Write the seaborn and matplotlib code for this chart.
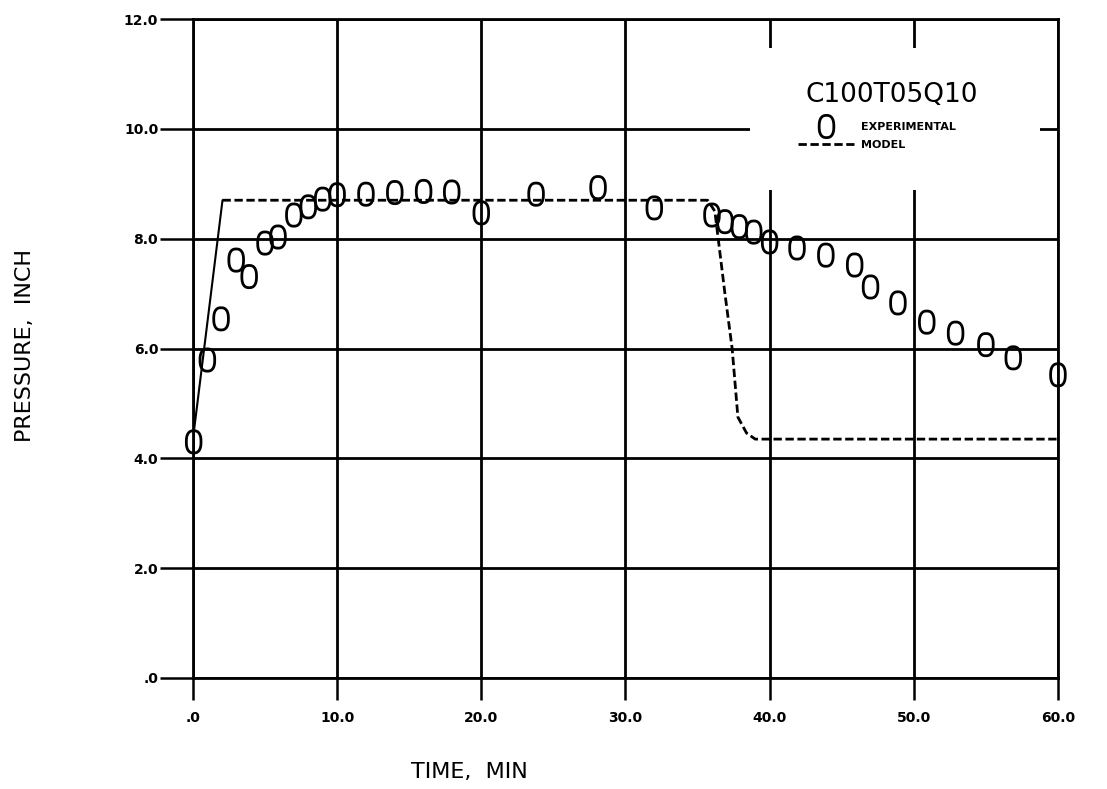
import numpy as np
import pandas as pd
import matplotlib
matplotlib.use("Agg")
import matplotlib.pyplot as plt
from matplotlib.path import Path
from matplotlib.lines import Line2D
from matplotlib.patches import Rectangle
import seaborn as sns

# ---- data ----
exp_time = [0.05, 1.0, 1.95, 3.0, 3.9, 5.0, 5.9, 7.0, 8.0, 9.0, 10.0, 12.0, 14.0, 16.0, 17.95,
            20.0, 23.8, 28.1, 32.0, 36.0, 36.9, 37.9, 38.9, 40.0, 41.9, 43.9, 45.9, 47.0,
            48.9, 50.9, 52.9, 55.0, 56.9, 60.0]
exp_pressure = [4.30, 5.79, 6.54, 7.61, 7.31, 7.92, 8.03, 8.43, 8.58, 8.72, 8.80, 8.81, 8.84, 8.86, 8.85,
                8.47, 8.81, 8.93, 8.56, 8.43, 8.31, 8.22, 8.12, 7.94, 7.83, 7.70, 7.52, 7.12,
                6.83, 6.48, 6.28, 6.07, 5.83, 5.52]
model_time = [0.0, 2.05, 35.7, 36.2, 36.9, 37.4, 37.8, 38.4, 39.0, 60.0]
model_pressure = [4.35, 8.70, 8.70, 8.50, 7.00, 6.00, 4.75, 4.46, 4.35, 4.35]

x_ticks = [0, 10, 20, 30, 40, 50, 60]
x_ticklabels = [".0", "10.0", "20.0", "30.0", "40.0", "50.0", "60.0"]
y_ticks = [0, 2, 4, 6, 8, 10, 12]
y_ticklabels = [".0", "2.0", "4.0", "6.0", "8.0", "10.0", "12.0"]

title_text = "C100T05Q10"
legend_labels = ["EXPERIMENTAL", "MODEL"]

# ---- style ----
sns.set_style("white")
plt.rcParams['font.family'] = ['DejaVu Sans']
plt.rcParams['text.color'] = 'black'
plt.rcParams['axes.labelcolor'] = 'black'
plt.rcParams['xtick.color'] = 'black'
plt.rcParams['ytick.color'] = 'black'

fig = plt.figure(figsize=(11.07, 7.89), dpi=100)
ax = fig.add_axes([0.1743, 0.1407, 0.9557 - 0.1743, 0.9759 - 0.1407])

# "0"-shaped marker (tall rounded oval)
th = np.linspace(0, 2 * np.pi, 80)
ex = 0.33 * np.sign(np.cos(th)) * np.abs(np.cos(th)) ** 0.8
ey = 0.5 * np.sign(np.sin(th)) * np.abs(np.sin(th)) ** 0.8
ell = Path(np.column_stack([ex, ey]), closed=True)

exp_df = pd.DataFrame({"t": exp_time, "p": exp_pressure})
model_df = pd.DataFrame({"t": model_time, "p": model_pressure})

# model: steep rise solid, rest dashed
sns.lineplot(data=model_df.iloc[:2], x="t", y="p", sort=False, color="black", lw=1.5, ax=ax, zorder=3)
sns.lineplot(data=model_df.iloc[1:], x="t", y="p", sort=False, color="black", lw=2.0,
             linestyle=(0, (3, 1.3)), ax=ax, zorder=3)
sns.scatterplot(data=exp_df, x="t", y="p", marker=ell, s=16 ** 2, facecolors="none",
                edgecolors="black", linewidths=2.0, ax=ax, zorder=4, clip_on=False)

ax.set_xlim(0, 60)
ax.set_ylim(0, 12)
ax.set_xticks(x_ticks)
ax.set_xticklabels(x_ticklabels, fontsize=10, fontweight="bold")
ax.set_yticks(y_ticks)
ax.set_yticklabels(y_ticklabels, fontsize=10, fontweight="bold")
ax.tick_params(axis="x", direction="out", length=16, width=1.8, pad=8, bottom=True)
ax.tick_params(axis="y", direction="out", length=24, width=1.8, pad=1, left=True)

ax.grid(True, color="black", lw=2.0)
ax.set_axisbelow(True)
for s in ax.spines.values():
    s.set_color("black")
    s.set_linewidth(2.0)
    s.set_visible(True)

ax.set_xlabel("TIME,  MIN", fontsize=16)
ax.xaxis.set_label_coords(0.32, -0.128)
ax.set_ylabel("PRESSURE,  INCH", fontsize=16)
ax.yaxis.set_label_coords(-0.183, 0.505)

# blank area around legend
ax.add_patch(Rectangle((0.644, 0.7405), 0.335, 0.2155, transform=ax.transAxes,
                       facecolor="white", edgecolor="none", zorder=1.5))
ax.text(0.808, 0.885, title_text, transform=ax.transAxes, fontsize=19,
        ha="center", va="center", zorder=5)

handles = [Line2D([], [], marker=ell, markersize=16, markerfacecolor="none",
                  markeredgecolor="black", markeredgewidth=2.0, linestyle="none"),
           Line2D([], [], color="black", lw=2.0, linestyle=(0, (3, 1.3)))]
leg = ax.legend(handles, legend_labels, loc="upper left", bbox_to_anchor=(0.6935, 0.8525),
                frameon=False, prop={"size": 8, "weight": "bold"}, handlelength=5.0,
                labelspacing=0.75, handletextpad=0.6, borderpad=0)
leg.set_zorder(5)

fig.savefig("out.png", dpi=100)
